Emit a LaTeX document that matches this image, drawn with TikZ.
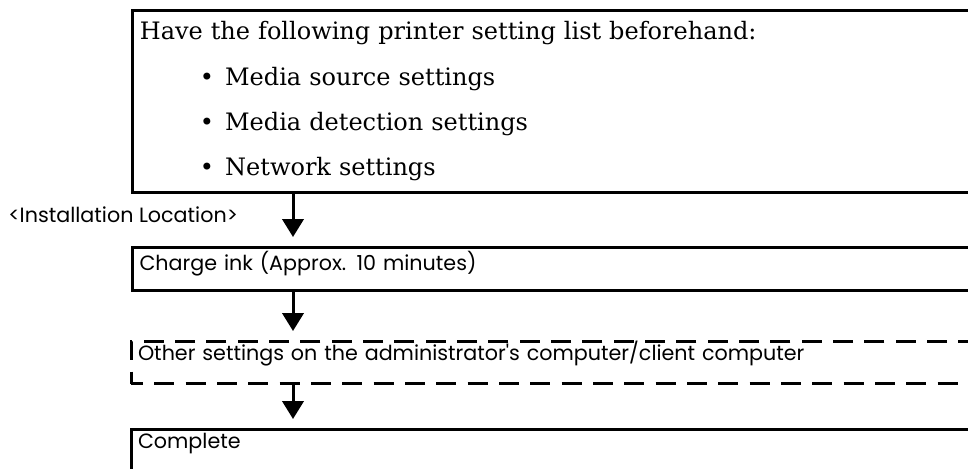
\documentclass[tikz,border=0pt]{standalone}
\usepackage{fontspec}
\newfontfamily\gothicfont{Poppins}
\newfontfamily\bookfont{DejaVu Serif}
\usetikzlibrary{positioning,arrows.meta}

\begin{document}
\begin{tikzpicture}[
  x=0.75pt,y=-0.75pt,
  >={Triangle[length=13.5pt,width=16pt]},
  listbox/.style={draw,line width=2.25pt,anchor=north west,inner xsep=5.5pt,inner ysep=0pt,text width=664pt,minimum height=136.5pt,align=left,font=\bookfont\fontsize{18}{34}\selectfont},
  stepbox/.style={draw,line width=2.25pt,anchor=north west,inner xsep=5.25pt,inner ysep=0pt,text width=664.5pt,align=left,font=\gothicfont\fontsize{15.5}{18}\selectfont},
  optbox/.style={stepbox,dash pattern=on 15pt off 8.5pt,dash phase=6pt},
  loc lab/.style={font=\gothicfont\fontsize{15.5}{18}\selectfont,inner sep=0pt,anchor=base west},
  flow/.style={->,line width=2.25pt,shorten >=6.75pt}
]
% Page frame (boxes run past the right edge)
\useasboundingbox (0,0) rectangle (968,468);
\clip (0,0) rectangle (968,468);

% Settings to prepare beforehand
\node[listbox] (setup) at (131,9)
{Have the following printer setting list beforehand:\\
 \hspace*{45pt}\makebox[19pt][l]{\textbullet}Media source settings\\
 \hspace*{45pt}\makebox[19pt][l]{\textbullet}Media detection settings\\
 \hspace*{45pt}\makebox[19pt][l]{\textbullet}Network settings};

% Steps at the installation location
\node[stepbox,text height=17.25pt,text depth=15pt] (charge) at (131,246) {Charge ink (Approx. 10 minutes)};
\node[optbox,text height=14.25pt,text depth=17.25pt] (other) at (129.5,340) {Other settings on the administrator's computer/client computer};
\node[stepbox,text height=14.25pt,text depth=40pt] (done) at (129.5,428) {Complete};

\node[loc lab] (loc) at (8,222) {<Installation Location>};

% Flow arrows
\coordinate (ax) at (293,0);
\draw[flow] (ax |- setup.south) -- (ax |- charge.north);
\draw[flow] (ax |- charge.south) -- (ax |- other.north);
\draw[flow] (ax |- other.south) -- (ax |- done.north);

\end{tikzpicture}
\end{document}
